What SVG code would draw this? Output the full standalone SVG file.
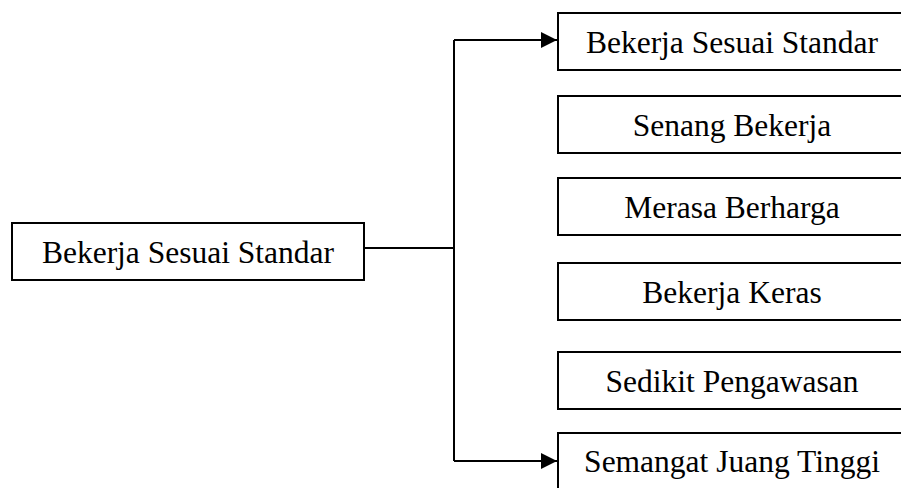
<svg xmlns="http://www.w3.org/2000/svg" width="901" height="488" viewBox="0 0 901 488">
<style>
.box{fill:#fff;stroke:#000;stroke-width:2}
.t{font-family:"Liberation Serif","Times New Roman",serif;font-size:31.5px;fill:#000;text-anchor:middle}
.c{fill:none;stroke:#000;stroke-width:2}
</style>
<defs>
<marker id="ah" markerWidth="16" markerHeight="16" viewBox="0 0 16 16" refX="16" refY="8" orient="auto" markerUnits="userSpaceOnUse">
<path d="M0,0 L16,8 L0,16 Z" fill="#000"/>
</marker>
</defs>
<rect width="901" height="488" fill="#fff"/>
<g id="connectors">
<path class="c" d="M364,248 H454"/>
<path class="c" d="M454,40 V461"/>
<path class="c" d="M454,40 H557" marker-end="url(#ah)"/>
<path class="c" d="M454,461 H557" marker-end="url(#ah)"/>
</g>
<g id="n0"><rect class="box" x="12" y="223" width="352" height="57"/><text class="t" x="188" y="263">Bekerja Sesuai Standar</text></g>
<g id="n1"><rect class="box" x="558" y="13" width="350" height="57"/><text class="t" x="732" y="53">Bekerja Sesuai Standar</text></g>
<g id="n2"><rect class="box" x="558" y="96" width="350" height="57"/><text class="t" x="732" y="136">Senang Bekerja</text></g>
<g id="n3"><rect class="box" x="558" y="178" width="350" height="57"/><text class="t" x="732" y="218">Merasa Berharga</text></g>
<g id="n4"><rect class="box" x="558" y="263" width="350" height="57"/><text class="t" x="732" y="303">Bekerja Keras</text></g>
<g id="n5"><rect class="box" x="558" y="352" width="350" height="57"/><text class="t" x="732" y="392">Sedikit Pengawasan</text></g>
<g id="n6"><rect class="box" x="558" y="433" width="350" height="57"/><text class="t" x="732" y="472">Semangat Juang Tinggi</text></g>
</svg>
